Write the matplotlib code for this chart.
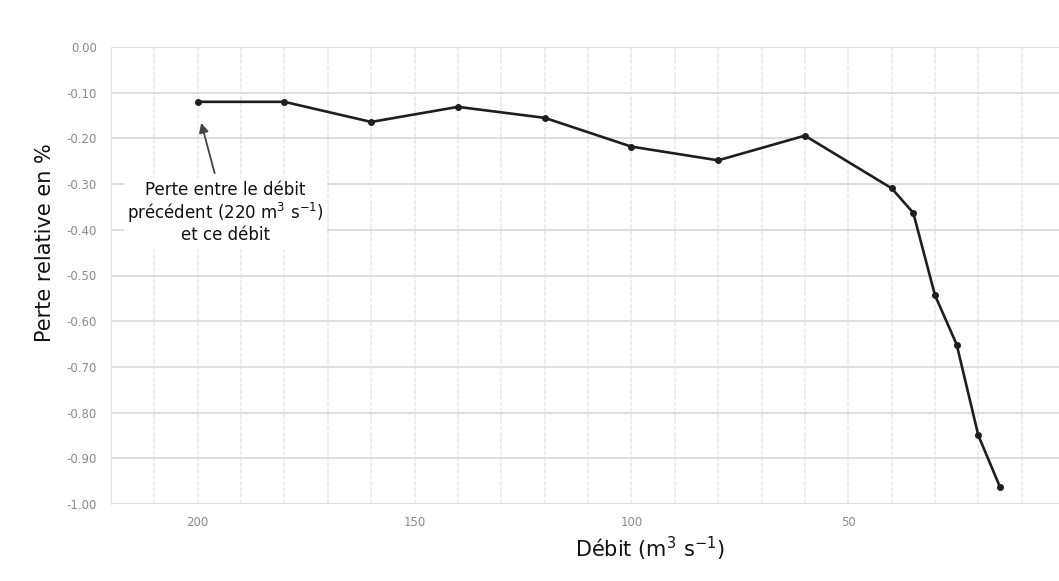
import matplotlib
matplotlib.use("Agg")
import matplotlib.pyplot as plt
from matplotlib.ticker import MultipleLocator, FuncFormatter

debit = [200, 180, 160, 140, 120, 100, 80, 60, 40, 35, 30, 25, 20, 15]
perte = [-0.12, -0.12, -0.164, -0.131, -0.155, -0.218, -0.248, -0.194,
         -0.309, -0.363, -0.543, -0.651, -0.850, -0.963]
y_ticks = [-1.0, -0.9, -0.8, -0.7, -0.6, -0.5, -0.4, -0.3, -0.2, -0.1, 0.0]
x_major = [200, 150, 100, 50]

fig = plt.figure(figsize=(10.59, 5.81), dpi=100)
ax = fig.add_axes([111/1059, 1 - 504/581, 1 - 111/1059, (504 - 47)/581])

ax.set_xlim(220, 1.4)
ax.set_ylim(-1.0, 0.0)
ax.set_xticks(x_major)
ax.xaxis.set_minor_locator(MultipleLocator(10))
ax.set_yticks(y_ticks)
ax.yaxis.set_major_formatter(FuncFormatter(lambda v, p: f"{v:.2f}".replace("\u2212", "-")))

ax.grid(True, which="major", axis="y", color="#dedede", linewidth=1.4)
ax.grid(True, which="both", axis="x", color="#e8e8e8", linewidth=1.1, linestyle=(0, (3, 1)))
ax.set_axisbelow(True)
for s in ["top", "right", "bottom"]:
    ax.spines[s].set_visible(False)
ax.spines["left"].set_color("#e2e2e2")
ax.tick_params(axis="both", which="both", length=0, colors="#8a8a8a", labelsize=8.5)
ax.tick_params(axis="y", pad=10)
ax.tick_params(axis="x", pad=9)

ax.plot(debit, perte, color="#1e1e1e", linewidth=1.9, marker="o", markersize=4,
        zorder=3)

ax.text(193.6, -0.293, "Perte entre le débit\nprécédent (220 m$^3$ s$^{-1}$)\net ce débit",
        ha="center", va="top", fontsize=12, color="#111111", linespacing=1.1,
        bbox=dict(boxstyle="square,pad=0.2", fc="white", ec="none"), zorder=4)
ax.annotate("", xy=(199.2, -0.166), xytext=(196.1, -0.276),
            arrowprops=dict(arrowstyle="-|>", color="#444444", lw=1.3,
                            mutation_scale=14, shrinkA=0, shrinkB=0), zorder=5)

fig.text(650/1059, 1 - 557/581, "Débit (m$^3$ s$^{-1}$)", ha="center", va="baseline",
         fontsize=15, color="#111111")
fig.text(45/1059, 1 - 243/581, "Perte relative en %", ha="center", va="center",
         rotation=90, fontsize=15, color="#111111")

fig.savefig("out.png", dpi=100, facecolor="white")
